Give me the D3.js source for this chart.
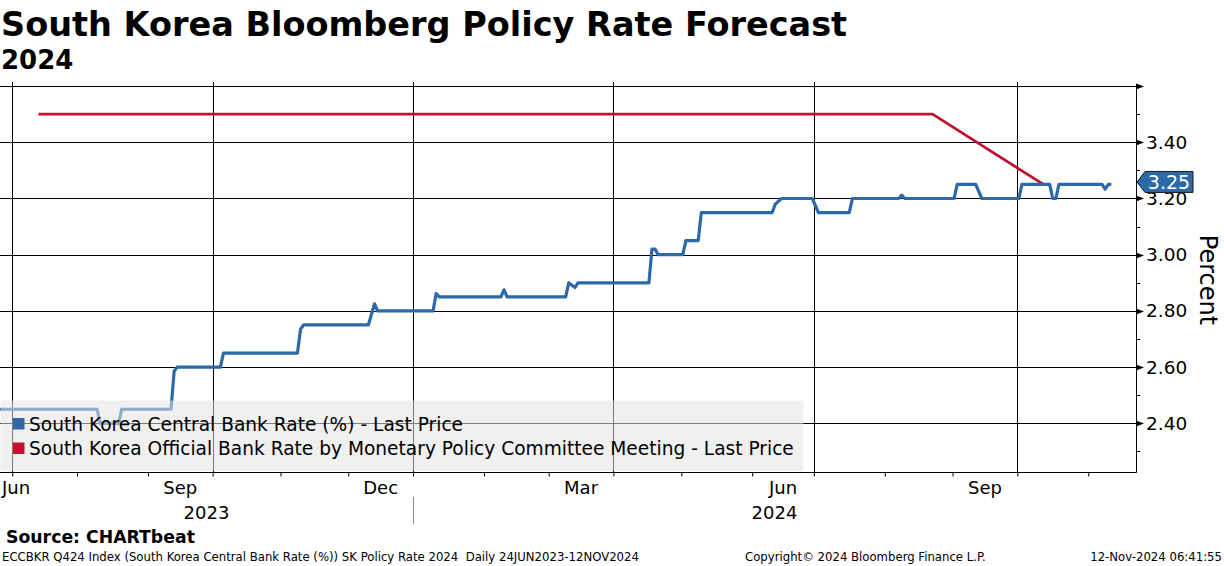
<!DOCTYPE html>
<html>
<head>
<meta charset="utf-8">
<script src="https://cdn.jsdelivr.net/npm/d3@7"></script>
<style>
  html, body { margin: 0; padding: 0; background: #fff; }
  svg { display: block; font-family: "DejaVu Sans", sans-serif; }
</style>
</head>
<body>
<svg id="chart" width="1224" height="566"></svg>
<script>
// --- data ---
// central bank rate forecast, only the turning points of the daily line
const centralDates = [
  "2023-06-26", "2023-08-09", "2023-08-10", "2023-08-18", "2023-08-21",
  "2023-09-12", "2023-09-13", "2023-09-14", "2023-10-04", "2023-10-05",
  "2023-11-08", "2023-11-09", "2023-11-10", "2023-12-11", "2023-12-13",
  "2023-12-14", "2024-01-09", "2024-01-10", "2024-01-11", "2024-02-08",
  "2024-02-09", "2024-02-12", "2024-03-08", "2024-03-11", "2024-03-13",
  "2024-03-14", "2024-04-16", "2024-04-17", "2024-04-18", "2024-04-19",
  "2024-05-01", "2024-05-02", "2024-05-08", "2024-05-09", "2024-06-11",
  "2024-06-12", "2024-06-14", "2024-06-28", "2024-07-02", "2024-07-16",
  "2024-07-17", "2024-08-07", "2024-08-08", "2024-08-09", "2024-09-02",
  "2024-09-03", "2024-09-11", "2024-09-13", "2024-10-01", "2024-10-02",
  "2024-10-15", "2024-10-16", "2024-10-17", "2024-10-18", "2024-11-07",
  "2024-11-08", "2024-11-11", "2024-11-12"
];
const centralRates = [
  2.45, 2.45, 2.40, 2.40, 2.45,
  2.45, 2.585, 2.60, 2.60, 2.65,
  2.65, 2.735, 2.75, 2.75, 2.825,
  2.80, 2.80, 2.862, 2.85, 2.85,
  2.875, 2.85, 2.85, 2.90, 2.883,
  2.90, 2.90, 3.02, 3.02, 3.00,
  3.00, 3.05, 3.05, 3.15, 3.15,
  3.18, 3.20, 3.20, 3.15, 3.15,
  3.20, 3.20, 3.212, 3.20, 3.20,
  3.25, 3.25, 3.20, 3.20, 3.25,
  3.25, 3.20, 3.20, 3.25, 3.25,
  3.233, 3.25, 3.25
];
// official rate at each monetary policy committee meeting
const mpcDates = [
  "2023-07-13", "2023-08-24", "2023-10-19", "2023-11-30", "2024-01-11",
  "2024-02-22", "2024-04-12", "2024-05-23", "2024-07-11", "2024-08-22",
  "2024-10-11"
];
const mpcRates = [3.50, 3.50, 3.50, 3.50, 3.50, 3.50, 3.50, 3.50, 3.50, 3.50, 3.25];

const axisEndDate = "2024-11-22";
const yMajor = [2.40, 2.60, 2.80, 3.00, 3.20, 3.40, 3.60];
const yMinor = [2.30, 2.50, 2.70, 2.90, 3.10, 3.30, 3.50];
const yLabels = ["2.40", "2.60", "2.80", "3.00", "3.20", "3.40"];
const quarterMonths = ["2023-06", "2023-09", "2023-12", "2024-03", "2024-06", "2024-09"];
const quarterLabels = ["Jun", "Sep", "Dec", "Mar", "Jun", "Sep"];
const yearLabels = ["2023", "2024"];
const seriesNames = [
  "South Korea Central Bank Rate (%) - Last Price",
  "South Korea Official Bank Rate by Monetary Policy Committee Meeting - Last Price"
];
const seriesColors = ["#2b69a8", "#c0122f"];

// --- layout ---
const svg = d3.select("#chart");
const plot = { left: 0, right: 1136, bottom: 472 };

const parseDay = d3.utcParse("%Y-%m-%d");
const firstDay = parseDay(centralDates[0]);
// bloomberg spaces daily charts by weekdays, not calendar days
const tradingIndex = d => d3.utcDay.range(firstDay, d).filter(t => t.getUTCDay() % 6 !== 0).length;

const x = d3.scaleLinear()
  .domain([0, tradingIndex(parseDay(axisEndDate))])
  .range([-1.6, plot.right]);
const y = d3.scaleLinear()
  .domain([2.40, 3.40])
  .range([423.3, 142.3]);
plot.top = y(3.60);

const monthStarts = d3.utcMonth.range(parseDay("2023-07-01"), parseDay("2024-12-01"));
const monthX = m => x(tradingIndex(m) - 0.5);

svg.append("clipPath").attr("id", "plotClip")
  .append("rect")
  .attr("x", plot.left).attr("y", plot.top)
  .attr("width", plot.right - plot.left).attr("height", plot.bottom - plot.top);

// horizontal grid
svg.append("g").selectAll("line")
  .data(yMajor)
  .enter().append("line")
  .attr("x1", plot.left).attr("x2", plot.right)
  .attr("y1", d => Math.round(y(d)) + 0.5).attr("y2", d => Math.round(y(d)) + 0.5)
  .attr("stroke", "#000").attr("stroke-width", 1);

// vertical grid at quarter starts
svg.append("g").selectAll("line")
  .data(monthStarts.filter(m => m.getUTCMonth() % 3 === 0))
  .enter().append("line")
  .attr("x1", d => Math.round(monthX(d)) + 0.5).attr("x2", d => Math.round(monthX(d)) + 0.5)
  .attr("y1", plot.top - 4).attr("y2", plot.bottom)
  .attr("stroke", "#000").attr("stroke-width", 1);

// bottom axis: month ticks
const xAxis = svg.append("g")
  .attr("transform", `translate(0, ${plot.bottom + 0.5})`)
  .call(d3.axisBottom(x)
    .tickValues(monthStarts.map(m => tradingIndex(m) - 0.5))
    .tickSize(4)
    .tickFormat(""));
xAxis.select(".domain").remove();
xAxis.selectAll("line").attr("stroke", "#000");
svg.append("line")
  .attr("x1", plot.left).attr("x2", plot.right + 0.5)
  .attr("y1", plot.bottom + 0.5).attr("y2", plot.bottom + 0.5)
  .attr("stroke", "#000");

// month labels centred in their month
const monthLabelG = svg.append("g")
  .attr("font-size", 18).attr("fill", "#000");
quarterMonths.forEach((ms, i) => {
  const m = parseDay(ms + "-01");
  const next = d3.utcMonth.offset(m, 1);
  const x0 = Math.max(monthX(m), plot.left);
  const x1 = monthX(next);
  const t = monthLabelG.append("text")
    .attr("x", (x0 + x1) / 2).attr("y", 494)
    .attr("text-anchor", "middle")
    .text(quarterLabels[i]);
  const w = t.node().getComputedTextLength();
  if ((x0 + x1) / 2 - w / 2 < 0) t.attr("x", 2).attr("text-anchor", "start");
});

// year labels + separator
const yearSplit = monthX(parseDay("2024-01-01"));
const yearSpans = [[x(0), yearSplit], [yearSplit, plot.right]];
svg.append("g").selectAll("text")
  .data(yearLabels)
  .enter().append("text")
  .attr("x", (d, i) => (Math.max(yearSpans[i][0], 0) + yearSpans[i][1]) / 2)
  .attr("y", 519)
  .attr("text-anchor", "middle")
  .attr("font-size", 18)
  .text(d => d);
svg.append("line")
  .attr("x1", Math.round(yearSplit) + 0.5).attr("x2", Math.round(yearSplit) + 0.5)
  .attr("y1", 497).attr("y2", 524)
  .attr("stroke", "#8c8c8c");

// right axis
svg.append("line")
  .attr("x1", plot.right + 0.5).attr("x2", plot.right + 0.5)
  .attr("y1", plot.top).attr("y2", plot.bottom + 0.5)
  .attr("stroke", "#000");
svg.append("g").selectAll("path")
  .data(yMajor)
  .enter().append("path")
  .attr("d", d => {
    const yy = Math.round(y(d)) + 0.5;
    return `M${plot.right},${yy - 3}L${plot.right + 8},${yy}L${plot.right},${yy + 3}Z`;
  })
  .attr("fill", "#000");
svg.append("g").selectAll("line")
  .data(yMinor.filter(d => y(d) > plot.top && y(d) < plot.bottom))
  .enter().append("line")
  .attr("x1", plot.right).attr("x2", plot.right + 4)
  .attr("y1", d => Math.round(y(d)) + 0.5).attr("y2", d => Math.round(y(d)) + 0.5)
  .attr("stroke", "#000");

const yAxis = svg.append("g")
  .attr("transform", `translate(${plot.right}, 0)`)
  .call(d3.axisRight(y)
    .tickValues(yLabels.map(Number))
    .tickSize(0)
    .tickPadding(10)
    .tickFormat((d, i) => yLabels[i]));
yAxis.select(".domain").remove();
yAxis.selectAll("text")
  .attr("font-size", 18.5)
  .attr("font-family", "DejaVu Sans")
  .attr("fill", "#000");

svg.append("text")
  .attr("transform", "translate(1200, 280) rotate(90)")
  .attr("text-anchor", "middle")
  .attr("font-size", 24)
  .text("Percent");

// series
const lineGen = d3.line()
  .x(d => x(tradingIndex(parseDay(d.date))))
  .y(d => y(d.value));

const central = centralDates.map((d, i) => ({ date: d, value: centralRates[i] }));
const mpc = mpcDates.map((d, i) => ({ date: d, value: mpcRates[i] }));

const lines = svg.append("g").attr("clip-path", "url(#plotClip)");
lines.append("path")
  .datum(mpc)
  .attr("d", lineGen)
  .attr("fill", "none")
  .attr("stroke", seriesColors[1])
  .attr("stroke-width", 2.7);
lines.append("path")
  .datum(central)
  .attr("d", lineGen)
  .attr("fill", "none")
  .attr("stroke", seriesColors[0])
  .attr("stroke-width", 3.2)
  .attr("stroke-linejoin", "round");

// legend (semi transparent, sits over the plot)
const legend = svg.append("g");
legend.append("rect")
  .attr("x", 0.5).attr("y", 400.5)
  .attr("width", 803).attr("height", 70.5)
  .attr("rx", 3)
  .attr("fill", "#e4e4e4")
  .attr("fill-opacity", 0.55);
seriesNames.forEach((name, i) => {
  legend.append("rect")
    .attr("x", 13).attr("y", 418 + i * 24.5)
    .attr("width", 11.5).attr("height", 11.5)
    .attr("fill", seriesColors[i]);
  legend.append("text")
    .attr("x", 29).attr("y", 431 + i * 24)
    .attr("font-size", 18.6)
    .attr("fill", "#000")
    .text(name);
});

// last value tag
const lastValue = centralRates[centralRates.length - 1];
const tagY = y(lastValue) - 2.5;
svg.append("path")
  .attr("d", `M${plot.right + 1},${tagY}L${plot.right + 9},${tagY - 10.5}L${plot.right + 57},${tagY - 10.5}L${plot.right + 57},${tagY + 10.5}L${plot.right + 9},${tagY + 10.5}Z`)
  .attr("fill", seriesColors[0])
  .attr("stroke", "#1b1b1b")
  .attr("stroke-width", 1);
svg.append("text")
  .attr("x", plot.right + 33).attr("y", tagY)
  .attr("dy", "0.36em")
  .attr("text-anchor", "middle")
  .attr("font-size", 19)
  .attr("fill", "#fff")
  .text(d3.format(".2f")(lastValue));

// titles
svg.append("text")
  .attr("x", 1).attr("y", 36)
  .attr("font-size", 33.5).attr("font-weight", "bold")
  .text("South Korea Bloomberg Policy Rate Forecast");
svg.append("text")
  .attr("x", 1).attr("y", 69)
  .attr("font-size", 26).attr("font-weight", "bold")
  .text("2024");

// footer
svg.append("text")
  .attr("x", 6).attr("y", 543)
  .attr("font-size", 17.3).attr("font-weight", "bold")
  .text("Source: CHARTbeat");
const foot = svg.append("g")
  .attr("font-family", "DejaVu Sans Condensed, DejaVu Sans")
  .attr("font-size", 13)
  .attr("fill", "#000");
foot.append("text")
  .attr("x", 2).attr("y", 561)
  .style("white-space", "pre")
  .text("ECCBKR Q424 Index (South Korea Central Bank Rate (%)) SK Policy Rate 2024  Daily 24JUN2023-12NOV2024");
foot.append("text")
  .attr("x", 745).attr("y", 561)
  .text("Copyright\u00a9 2024 Bloomberg Finance L.P.");
foot.append("text")
  .attr("x", 1222).attr("y", 561)
  .attr("text-anchor", "end")
  .text("12-Nov-2024 06:41:55");
</script>
</body>
</html>
